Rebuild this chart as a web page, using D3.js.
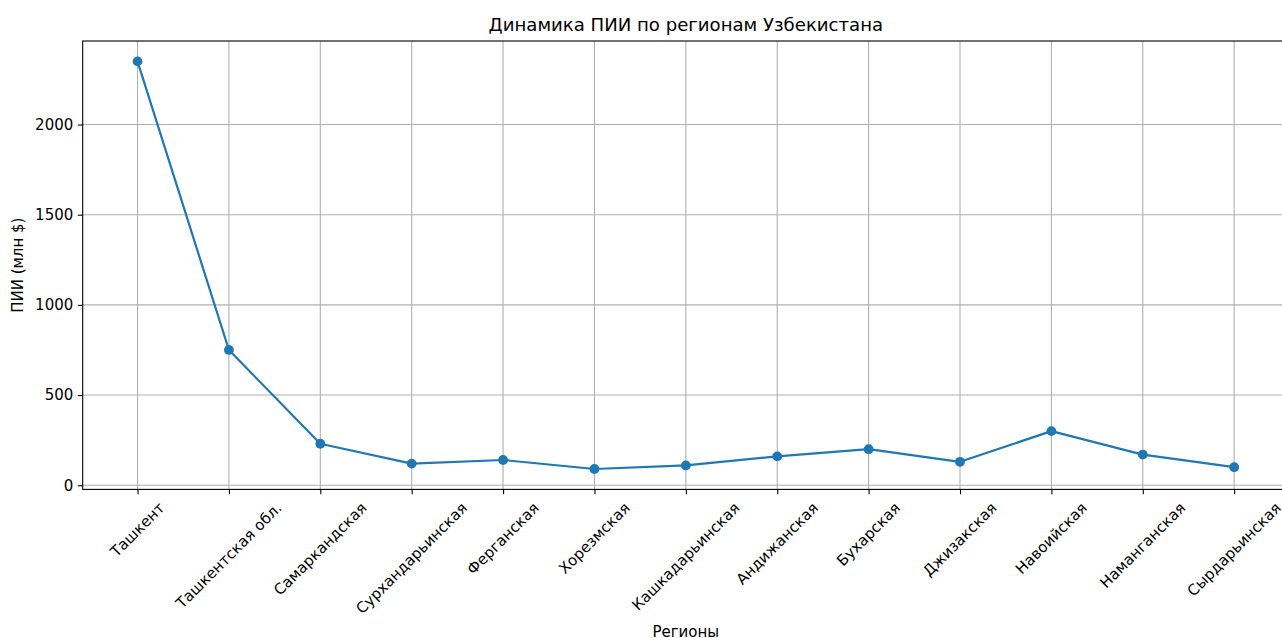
<!DOCTYPE html>
<html>
<head>
<meta charset="utf-8">
<script src="https://cdn.jsdelivr.net/npm/d3@7"></script>
<style>
	body { margin: 0; background: #fff; }
	svg { display: block; font-family: "DejaVu Sans", sans-serif; }
</style>
</head>
<body>
<div class="chart"></div>
<script>
// регионы и значения ПИИ (млн $)
const regions = [
	'Ташкент', 'Ташкентская обл.', 'Самаркандская', 'Сурхандарьинская', 'Ферганская',
	'Хорезмская', 'Кашкадарьинская', 'Андижанская', 'Бухарская', 'Джизакская',
	'Навоийская', 'Наманганская', 'Сырдарьинская'
]
const fdi = [2350, 750, 230, 120, 140, 90, 110, 160, 200, 130, 300, 170, 100]
const yTicks = [0, 500, 1000, 1500, 2000]

const W = 1282, H = 638
const plotLeft = 82.7, plotRight = 1289, plotTop = 41, plotBottom = 489.4
const blue = '#1f77b4'
const fs = 15

const svg = d3.select('.chart').append('svg')
	.attr('width', W).attr('height', H)
	.style('overflow', 'hidden')

// matplotlib style margins: 5% each side
const n = regions.length
const x = d3.scaleLinear()
	.domain([-0.6, n - 1 + 0.6])
	.range([plotLeft, plotRight])
const yMin = d3.min(fdi), yMax = d3.max(fdi)
const pad = (yMax - yMin) * 0.05
const y = d3.scaleLinear()
	.domain([yMin - pad, yMax + pad])
	.range([plotBottom, plotTop])

// grid
svg.append('g')
	.selectAll('line').data(regions).join('line')
	.attr('x1', (d, i) => x(i)).attr('x2', (d, i) => x(i))
	.attr('y1', plotTop).attr('y2', plotBottom)
	.attr('stroke', '#b0b0b0').attr('stroke-width', 1.1)
svg.append('g')
	.selectAll('line').data(yTicks).join('line')
	.attr('x1', plotLeft).attr('x2', plotRight)
	.attr('y1', d => y(d)).attr('y2', d => y(d))
	.attr('stroke', '#b0b0b0').attr('stroke-width', 1.1)

// line + markers
svg.append('path')
	.datum(fdi)
	.attr('fill', 'none')
	.attr('stroke', blue)
	.attr('stroke-width', 2.2)
	.attr('stroke-linejoin', 'round')
	.attr('d', d3.line().x((d, i) => x(i)).y(d => y(d)))
svg.append('g')
	.selectAll('circle').data(fdi).join('circle')
	.attr('cx', (d, i) => x(i)).attr('cy', d => y(d))
	.attr('r', 4.9).attr('fill', blue)

// axes
const yAxis = d3.axisLeft(y).tickValues(yTicks).tickFormat(d3.format('d'))
	.tickSize(4.9).tickPadding(4.5)
const gy = svg.append('g').attr('transform', `translate(${plotLeft},0)`).call(yAxis)
gy.select('.domain').remove()
gy.selectAll('text').attr('font-size', fs).attr('fill', '#000').attr('font-family', 'DejaVu Sans')
gy.selectAll('line').attr('stroke', '#000').attr('stroke-width', 1.1)

const xAxis = d3.axisBottom(x).tickValues(d3.range(n)).tickSize(4.9).tickFormat('')
const gx = svg.append('g').attr('transform', `translate(0,${plotBottom})`).call(xAxis)
gx.select('.domain').remove()
gx.selectAll('line').attr('stroke', '#000').attr('stroke-width', 1.1)

// rotated tick labels, bbox centered on tick
const labelTop = plotBottom + 4.9 + 4.9
svg.append('g')
	.selectAll('text').data(regions).join('text')
	.text(d => d)
	.attr('font-size', fs)
	.attr('text-anchor', 'middle')
	.attr('dominant-baseline', 'central')
	.each(function (d, i) {
		const w = this.getComputedTextLength()
		const h = fs * 1.16
		const side = (w + h) / Math.SQRT2
		const cx = x(i), cy = labelTop + side / 2
		d3.select(this)
			.attr('x', cx).attr('y', cy)
			.attr('transform', `rotate(-45,${cx},${cy})`)
	})

// spines
svg.append('rect')
	.attr('x', plotLeft).attr('y', plotTop)
	.attr('width', plotRight - plotLeft).attr('height', plotBottom - plotTop)
	.attr('fill', 'none').attr('stroke', '#000').attr('stroke-width', 1.1)

// titles
svg.append('text')
	.attr('x', (plotLeft + plotRight) / 2).attr('y', 31)
	.attr('text-anchor', 'middle').attr('font-size', 18.1)
	.text('Динамика ПИИ по регионам Узбекистана')
svg.append('text')
	.attr('x', (plotLeft + plotRight) / 2).attr('y', 637)
	.attr('text-anchor', 'middle').attr('font-size', fs)
	.text('Регионы')
svg.append('text')
	.attr('transform', `translate(23,${(plotTop + plotBottom) / 2}) rotate(-90)`)
	.attr('text-anchor', 'middle').attr('font-size', fs)
	.text('ПИИ (млн $)')
</script>
</body>
</html>
